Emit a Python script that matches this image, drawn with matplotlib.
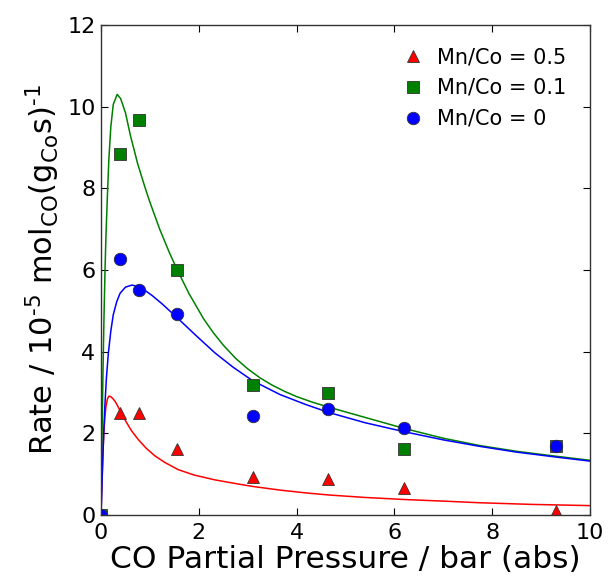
import matplotlib
matplotlib.use('Agg')
import matplotlib.pyplot as plt

# measured rates (x = CO partial pressure, bar)
p_data = [0, 0.39, 0.78, 1.56, 3.1, 4.65, 6.2, 9.3]
rate_05 = [0, 2.5, 2.5, 1.61, 0.94, 0.88, 0.67, 0.1]
rate_01 = [0, 8.83, 9.67, 6.0, 3.18, 2.98, 1.62, 1.69]
rate_00 = [0, 6.26, 5.5, 4.93, 2.43, 2.59, 2.12, 1.70]

# fitted curves
p_fit_05 = [0, 0.02, 0.04, 0.06, 0.08, 0.1, 0.13, 0.16, 0.2, 0.25, 0.3, 0.38, 0.49, 0.62, 0.76, 0.92,
            1.1, 1.3, 1.58, 1.9, 2.33, 2.8, 3.1, 3.66, 4.2, 4.66, 5.4, 6.2, 7.0, 7.75, 8.8, 10]
fit_05 = [0, 0.85, 1.55, 2.05, 2.4, 2.65, 2.84, 2.91, 2.9, 2.84, 2.76, 2.58, 2.33, 2.07, 1.85, 1.64,
          1.45, 1.29, 1.11, 0.98, 0.86, 0.76, 0.70, 0.61, 0.54, 0.49, 0.43, 0.38, 0.34, 0.30, 0.26, 0.23]

p_fit_01 = [0, 0.02, 0.04, 0.06, 0.08, 0.1, 0.13, 0.16, 0.2, 0.25, 0.33, 0.4, 0.5, 0.6, 0.75, 0.9,
            1.0, 1.2, 1.4, 1.56, 1.8, 2.1, 2.3, 2.5, 2.75, 3.0, 3.25, 3.5, 3.75, 4.0, 4.33, 4.66,
            5.4, 6.2, 7.0, 7.75, 8.5, 9.3, 10]
fit_01 = [0, 1.9, 3.5, 4.8, 5.9, 6.8, 7.8, 8.7, 9.5, 10.05, 10.3, 10.2, 9.85, 9.3, 8.6, 8.02,
          7.66, 7.0, 6.42, 6.0, 5.42, 4.8, 4.46, 4.16, 3.84, 3.58, 3.36, 3.18, 3.03, 2.9, 2.76, 2.64,
          2.39, 2.12, 1.88, 1.70, 1.56, 1.44, 1.34]

p_fit_00 = [0, 0.02, 0.04, 0.06, 0.08, 0.11, 0.15, 0.2, 0.25, 0.32, 0.39, 0.5, 0.63, 0.76, 0.9, 1.05,
            1.24, 1.55, 1.92, 2.33, 2.7, 3.1, 3.66, 4.2, 4.66, 5.4, 6.2, 7.0, 7.75, 8.5, 9.3, 10]
fit_00 = [0, 0.75, 1.5, 2.15, 2.7, 3.35, 3.96, 4.5, 4.9, 5.22, 5.43, 5.58, 5.63, 5.6, 5.5, 5.37,
          5.18, 4.84, 4.42, 3.97, 3.62, 3.29, 2.95, 2.70, 2.51, 2.26, 2.04, 1.84, 1.68, 1.54, 1.42, 1.32]

labels = ['Mn/Co = 0.5', 'Mn/Co = 0.1', 'Mn/Co = 0']

fig = plt.figure(figsize=(6.1, 5.82), dpi=100)
ax = fig.add_axes([0.1656, 0.1151, 0.8016, 0.842])

ax.plot(p_fit_05, fit_05, color='r', lw=1.1)
ax.plot(p_fit_01, fit_01, color='g', lw=1.1)
ax.plot(p_fit_00, fit_00, color='b', lw=1.1)

mk = dict(linestyle='none', markersize=9, markeredgecolor='#333333', markeredgewidth=0.6)
ax.plot(p_data, rate_05, marker='^', color='r', label=labels[0], **mk)
ax.plot(p_data, rate_01, marker='s', color='g', label=labels[1], **mk)
ax.plot(p_data, rate_00, marker='o', color='b', label=labels[2], **mk)

ax.set_xlim(0, 10)
ax.set_ylim(0, 12)
ax.set_xticks([0, 2, 4, 6, 8, 10])
ax.set_yticks([0, 2, 4, 6, 8, 10, 12])
ax.tick_params(direction='in', top=True, right=True, length=5, width=0.8, labelsize=16)
ax.tick_params(axis='x', pad=6)
ax.tick_params(axis='y', pad=4)
for s in ax.spines.values():
    s.set_linewidth(1.0)
    s.set_color('#333333')

ax.set_xlabel('CO Partial Pressure / bar (abs)', fontsize=22.5, labelpad=1)
ax.set_ylabel(r'Rate / 10$^{\text{-5}}$ mol$_{\mathrm{CO}}$(g$_{\mathrm{Co}}$s)$^{\text{-1}}$',
              fontsize=22, labelpad=4)

ax.legend(loc='upper right', bbox_to_anchor=(0.989, 0.993), frameon=False, numpoints=1,
          fontsize=15, handlelength=1.0, handletextpad=0.65, labelspacing=0.52)

fig.savefig('out.png', dpi=100)
